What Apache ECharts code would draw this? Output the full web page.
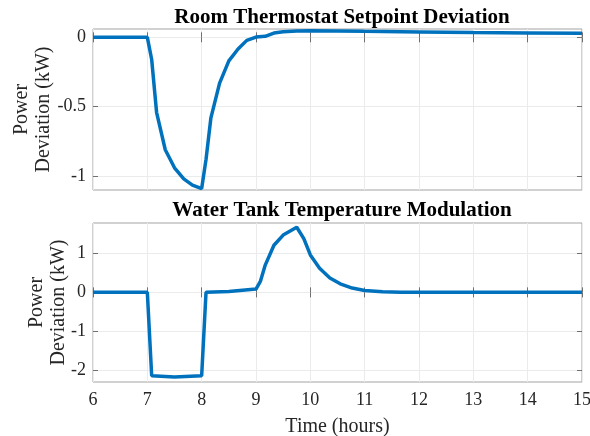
<!DOCTYPE html>
<html>
<head>
<meta charset="utf-8">
<script src="https://cdn.jsdelivr.net/npm/echarts@6/dist/echarts.min.js"></script>
<style>
  html, body { margin: 0; padding: 0; background: #fff; }
  #chart { width: 590px; height: 436px; }
</style>
</head>
<body>
<div id="chart"></div>
<script>
// Room thermostat setpoint deviation: time (h) and power deviation (kW)
var roomTime = [6, 7, 7.08, 7.17, 7.33, 7.5, 7.67, 7.83, 8, 8.08, 8.17, 8.33, 8.5, 8.67, 8.83, 9, 9.17, 9.33, 9.5, 9.75, 10, 10.5, 11, 12, 13, 14, 15];
var roomDev  = [0, 0, -0.16, -0.54, -0.81, -0.94, -1.02, -1.065, -1.09, -0.88, -0.58, -0.33, -0.17, -0.084, -0.022, 0.002, 0.007, 0.031, 0.04, 0.045, 0.047, 0.046, 0.043, 0.039, 0.035, 0.032, 0.029];

// Water tank temperature modulation: time (h) and power deviation (kW)
var tankTime = [6, 7, 7.08, 7.5, 8, 8.08, 8.5, 9, 9.08, 9.17, 9.33, 9.5, 9.75, 9.88, 10, 10.17, 10.36, 10.55, 10.77, 11, 11.33, 11.67, 12, 13, 14, 15];
var tankDev  = [0, 0, -2.14, -2.17, -2.14, 0, 0.025, 0.085, 0.28, 0.70, 1.21, 1.47, 1.67, 1.38, 0.96, 0.62, 0.37, 0.22, 0.11, 0.05, 0.017, 0.005, 0, 0, 0, 0];

// Axis ranges and tick labels
var timeMin = 6, timeMax = 15, timeStep = 1;
var roomYMin = -1.1, roomYMax = 0.06, roomTicks = [-1, -0.5, 0];
var tankYMin = -2.3, tankYMax = 1.78, tankTicks = [-2, -1, 0, 1];

var titles = ['Room Thermostat Setpoint Deviation', 'Water Tank Temperature Modulation'];
var yName = 'Power\nDeviation (kW)';
var xName = 'Time (hours)';

function zip(xs, ys) { return xs.map(function (x, i) { return [x, ys[i]]; }); }

var FONT = "'Liberation Serif', 'Times New Roman', serif";
var BOX = '#a3a3a3';
var TICK = '#707070';
var TEXT = '#262626';
var GRIDLINE = '#ebebeb';
var LINE = '#0072BD';

function xAxis(gridIndex, pos, withLabels) {
  return {
    type: 'value', gridIndex: gridIndex, position: pos,
    min: timeMin, max: timeMax, interval: timeStep,
    axisLine: { show: false },
    axisTick: { show: true, inside: true, length: 5, lineStyle: { color: TICK, width: 1 } },
    axisLabel: { show: withLabels, color: TEXT, fontFamily: FONT, fontSize: 18, margin: 9 },
    splitLine: { show: pos === 'bottom', lineStyle: { color: GRIDLINE, width: 1 } },
    name: (withLabels ? xName : ''), nameLocation: 'middle', nameGap: 35,
    nameTextStyle: { color: TEXT, fontFamily: FONT, fontSize: 20 }
  };
}

function yAxis(gridIndex, pos, min, max, ticks, nameGap) {
  var left = pos === 'left';
  return {
    type: 'value', gridIndex: gridIndex, position: pos,
    min: min, max: max,
    axisLine: { show: false },
    axisTick: { show: true, inside: true, length: 5, customValues: ticks, lineStyle: { color: TICK, width: 1 } },
    axisLabel: { show: left, customValues: ticks, color: TEXT, fontFamily: FONT, fontSize: 18, margin: 7 },
    splitLine: { show: left, lineStyle: { color: GRIDLINE, width: 1 } },
    name: left ? yName : '', nameLocation: 'middle', nameRotate: 90, nameGap: nameGap,
    nameMoveOverlap: false,
    nameTextStyle: { color: TEXT, fontFamily: FONT, fontSize: 20, lineHeight: 22, align: 'center' }
  };
}

var chart = echarts.init(document.getElementById('chart'), null, { renderer: 'canvas' });
chart.setOption({
  animation: false,
  backgroundColor: '#ffffff',
  title: [
    { text: titles[0], left: 337, top: 2, textAlign: 'center',
      textStyle: { fontFamily: FONT, fontSize: 21, fontWeight: 'bold', color: '#000' } },
    { text: titles[1], left: 337, top: 195, textAlign: 'center',
      textStyle: { fontFamily: FONT, fontSize: 21, fontWeight: 'bold', color: '#000' } }
  ],
  grid: [
    { left: 93, right: 8, top: 29, height: 161, show: true, borderColor: BOX, borderWidth: 1,
      backgroundColor: 'transparent', containLabel: false, outerBoundsMode: 'none' },
    { left: 93, right: 8, top: 223, height: 159, show: true, borderColor: BOX, borderWidth: 1,
      backgroundColor: 'transparent', containLabel: false, outerBoundsMode: 'none' }
  ],
  xAxis: [
    xAxis(0, 'bottom', false),
    xAxis(0, 'top', false),
    xAxis(1, 'bottom', true),
    xAxis(1, 'top', false)
  ],
  yAxis: [
    yAxis(0, 'left', roomYMin, roomYMax, roomTicks, 38),
    yAxis(0, 'right', roomYMin, roomYMax, roomTicks, 0),
    yAxis(1, 'left', tankYMin, tankYMax, tankTicks, 23),
    yAxis(1, 'right', tankYMin, tankYMax, tankTicks, 0)
  ],
  series: [
    { type: 'line', xAxisIndex: 0, yAxisIndex: 0, data: zip(roomTime, roomDev),
      showSymbol: false, lineStyle: { color: LINE, width: 3.5 }, clip: true },
    { type: 'line', xAxisIndex: 2, yAxisIndex: 2, data: zip(tankTime, tankDev),
      showSymbol: false, lineStyle: { color: LINE, width: 3.5 }, clip: true }
  ]
});
</script>
</body>
</html>
